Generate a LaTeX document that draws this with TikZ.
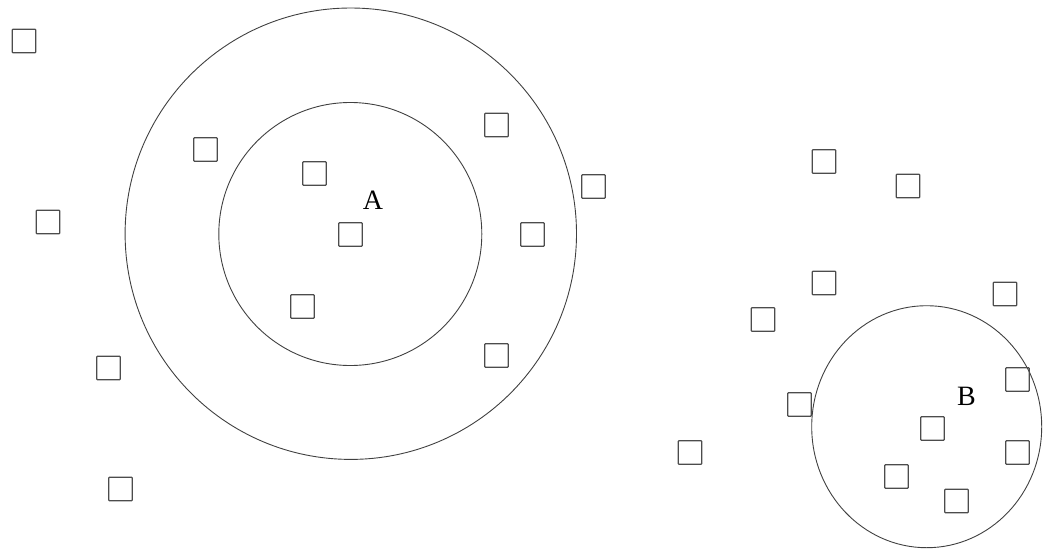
\documentclass[tikz,border=0pt]{standalone}
\usepackage{fontspec}
\setmainfont{Liberation Serif}
\usepackage{tikz}
\usetikzlibrary{positioning}
\tikzset{
  item/.style    = {draw=black!70, line width=1.3pt, rounded corners=0.8pt,
                    minimum size=23.5pt, inner sep=0pt},
  ring/.style    = {draw=black!75, line width=0.9pt},
  tag/.style     = {inner sep=0pt, font=\fontsize{28}{30}\selectfont}
}

\begin{document}
\begin{tikzpicture}[x=1pt, y=-1pt]
\useasboundingbox (0,0) rectangle (1043,549);

% cluster A: two concentric rings
\draw[ring] (350.8,233.7) circle (225.7);
\draw[ring] (350.3,234) circle (131.5);
\node[tag] (labA) at (373,200) {A};

% cluster B
\draw[ring] (926.7,426.7) ellipse (115 and 121);
\node[tag] (labB) at (966.5,396.5) {B};

% the points
\foreach \n/\x/\y in {p1/24/41, p2/205.5/149.5, p3/48/222, p4/108.5/368,
                      p5/120.5/489, p6/314.5/173.5, p7/350.5/234.5, p8/302.5/306.5,
                      p9/496.5/125, p10/593.5/186.5, p11/532.5/234.5, p12/496.5/355.5,
                      p13/824/161.5, p14/908/186, p15/824/283, p16/763/319.5,
                      p17/1005/294, p18/1017.5/379.5, p19/799.5/404.5, p20/932.5/428.5,
                      p21/1017.5/452.5, p22/690/452.5, p23/896.5/476.5, p24/956.5/501} {
  \node[item] (\n) at (\x,\y) {};
}
\end{tikzpicture}
\end{document}
